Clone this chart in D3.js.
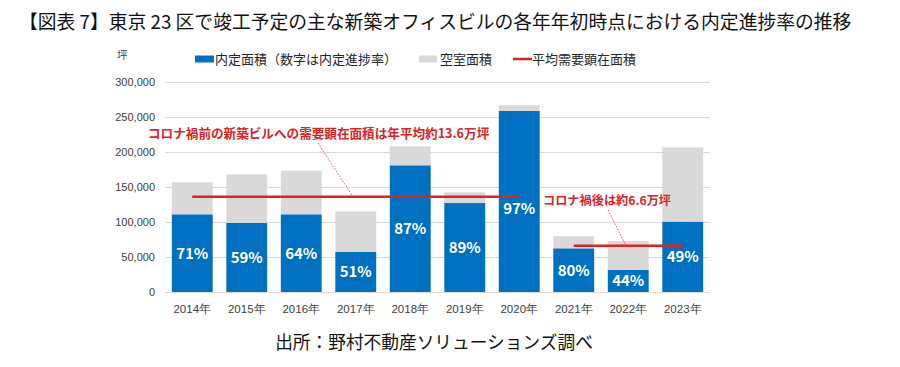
<!DOCTYPE html>
<html>
<head>
<meta charset="utf-8">
<style>
  body { margin: 0; background: #fff; }
  svg { display: block; font-family: "Noto Sans CJK JP", "Noto Sans", sans-serif; }
  .y .domain, .x .domain { display: none; }
  .y .tick line { stroke: #d9d9d9; }
  .y .tick text, .x .tick text { fill: #404040; }
</style>
</head>
<body>
<svg width="900" height="367"></svg>
<script src="https://d3js.org/d3.v7.min.js"></script>
<script>
// data (坪)
const years = ["2014年", "2015年", "2016年", "2017年", "2018年", "2019年", "2020年", "2021年", "2022年", "2023年"];
const occupied = [111000, 98600, 111000, 57500, 181000, 127100, 258600, 62400, 31500, 100600]; // 内定面積
const vacant = [45700, 69500, 62400, 57800, 27100, 15300, 8100, 17200, 41400, 106100];        // 空室面積
const rates = [71, 59, 64, 51, 87, 89, 97, 80, 44, 49];                                          // 内定進捗率 %
const avgFrom = ["2014年", "2021年"];
const avgTo = ["2020年", "2023年"];
const avgValues = [136000, 66000];
const yTicks = [0, 50000, 100000, 150000, 200000, 250000, 300000];

const blue = "#0070c0", grey = "#d9d9d9", red = "#dc2327";

const svg = d3.select("svg");
const margin = { top: 82, right: 190, bottom: 75, left: 165 };
const width = 900, height = 367;

const x = d3.scaleBand()
  .domain(years)
  .range([margin.left, width - margin.right])
  .paddingInner(0.25)
  .paddingOuter(0.125);

const y = d3.scaleLinear()
  .domain([0, 300000])
  .range([height - margin.bottom, margin.top]);

// title
svg.append("text")
  .attr("x", 19).attr("y", 29)
  .attr("font-size", 18.8).attr("fill", "#111")
  .text("【図表 7】東京 23 区で竣工予定の主な新築オフィスビルの各年年初時点における内定進捗率の推移");

// unit
svg.append("text")
  .attr("x", 117).attr("y", 59)
  .attr("font-size", 10.5).attr("fill", "#404040")
  .text("坪");

// gridlines + y labels
svg.append("g")
  .attr("class", "y axis")
  .attr("transform", `translate(${margin.left},0)`)
  .call(d3.axisLeft(y)
    .tickValues(yTicks)
    .tickSize(-(width - margin.left - margin.right))
    .tickPadding(10)
    .tickFormat(d3.format(",")))
  .selectAll("text").attr("font-size", 11);

svg.append("g")
  .attr("class", "x axis")
  .attr("transform", `translate(0,${height - margin.bottom})`)
  .call(d3.axisBottom(x).tickSize(0).tickPadding(13))
  .selectAll("text").attr("font-size", 11.5);

// stacked bars
const table = years.map((yr, i) => ({ year: yr, occupied: occupied[i], vacant: vacant[i], rate: rates[i] }));
const stack = d3.stack().keys(["occupied", "vacant"])(table);
const colours = { occupied: blue, vacant: grey };

svg.append("g")
  .selectAll("g")
  .data(stack)
  .join("g")
  .attr("fill", d => colours[d.key])
  .selectAll("rect")
  .data(d => d)
  .join("rect")
  .attr("x", d => x(d.data.year))
  .attr("width", x.bandwidth())
  .attr("y", d => y(d[1]))
  .attr("height", d => y(d[0]) - y(d[1]));

// average demand lines
const avgs = avgValues.map((v, i) => ({ from: avgFrom[i], to: avgTo[i], value: v }));
svg.append("g")
  .selectAll("line")
  .data(avgs)
  .join("line")
  .attr("x1", d => x(d.from) + x.bandwidth() / 2)
  .attr("x2", d => x(d.to) + x.bandwidth() / 2)
  .attr("y1", d => y(d.value))
  .attr("y2", d => y(d.value))
  .attr("stroke", red)
  .attr("stroke-width", 2.5);

// percentage labels (pushed down when they would sit on an average line)
function labelY(d) {
  let ly = (y(0) + y(d.occupied)) / 2;
  const i = years.indexOf(d.year);
  avgs.forEach(a => {
    const inside = i >= years.indexOf(a.from) && i <= years.indexOf(a.to);
    if (inside && Math.abs(ly - y(a.value)) < 10) ly = y(a.value) + 12;
  });
  return ly + 5.5;
}

svg.append("g")
  .selectAll("text")
  .data(table)
  .join("text")
  .attr("x", d => x(d.year) + x.bandwidth() / 2)
  .attr("y", labelY)
  .attr("text-anchor", "middle")
  .attr("font-size", 15)
  .attr("font-weight", "bold")
  .attr("fill", "#fff")
  .text(d => d.rate + "%");

// annotations
svg.append("text")
  .attr("x", 148).attr("y", 137.5)
  .attr("font-size", 12.6).attr("font-weight", "bold").attr("fill", red)
  .text("コロナ禍前の新築ビルへの需要顕在面積は年平均約13.6万坪");

svg.append("line")
  .attr("x1", 318).attr("y1", 143)
  .attr("x2", 353).attr("y2", y(avgValues[0]))
  .attr("stroke", red).attr("stroke-width", 0.8).attr("stroke-dasharray", "1.5,1.5");

svg.append("text")
  .attr("x", 543).attr("y", 204.5)
  .attr("font-size", 12.2).attr("font-weight", "bold").attr("fill", red)
  .text("コロナ禍後は約6.6万坪");

svg.append("line")
  .attr("x1", 608).attr("y1", 210)
  .attr("x2", 626).attr("y2", y(avgValues[1]))
  .attr("stroke", red).attr("stroke-width", 0.8).attr("stroke-dasharray", "1.5,1.5");

// legend
const legend = svg.append("g").attr("font-size", 13).attr("fill", "#262626");
legend.append("rect").attr("x", 195).attr("y", 55.5).attr("width", 19).attr("height", 7).attr("fill", blue);
legend.append("text").attr("x", 215).attr("y", 64).text("内定面積（数字は内定進捗率）");
legend.append("rect").attr("x", 419).attr("y", 55.5).attr("width", 18).attr("height", 7).attr("fill", grey);
legend.append("text").attr("x", 440).attr("y", 64).text("空室面積");
legend.append("line").attr("x1", 513).attr("x2", 532).attr("y1", 59).attr("y2", 59)
  .attr("stroke", red).attr("stroke-width", 2.5);
legend.append("text").attr("x", 532).attr("y", 64).text("平均需要顕在面積");

// source
svg.append("text")
  .attr("x", 434).attr("y", 348.5)
  .attr("text-anchor", "middle")
  .attr("font-size", 17.7).attr("fill", "#111")
  .text("出所：野村不動産ソリューションズ調べ");
</script>
</body>
</html>
